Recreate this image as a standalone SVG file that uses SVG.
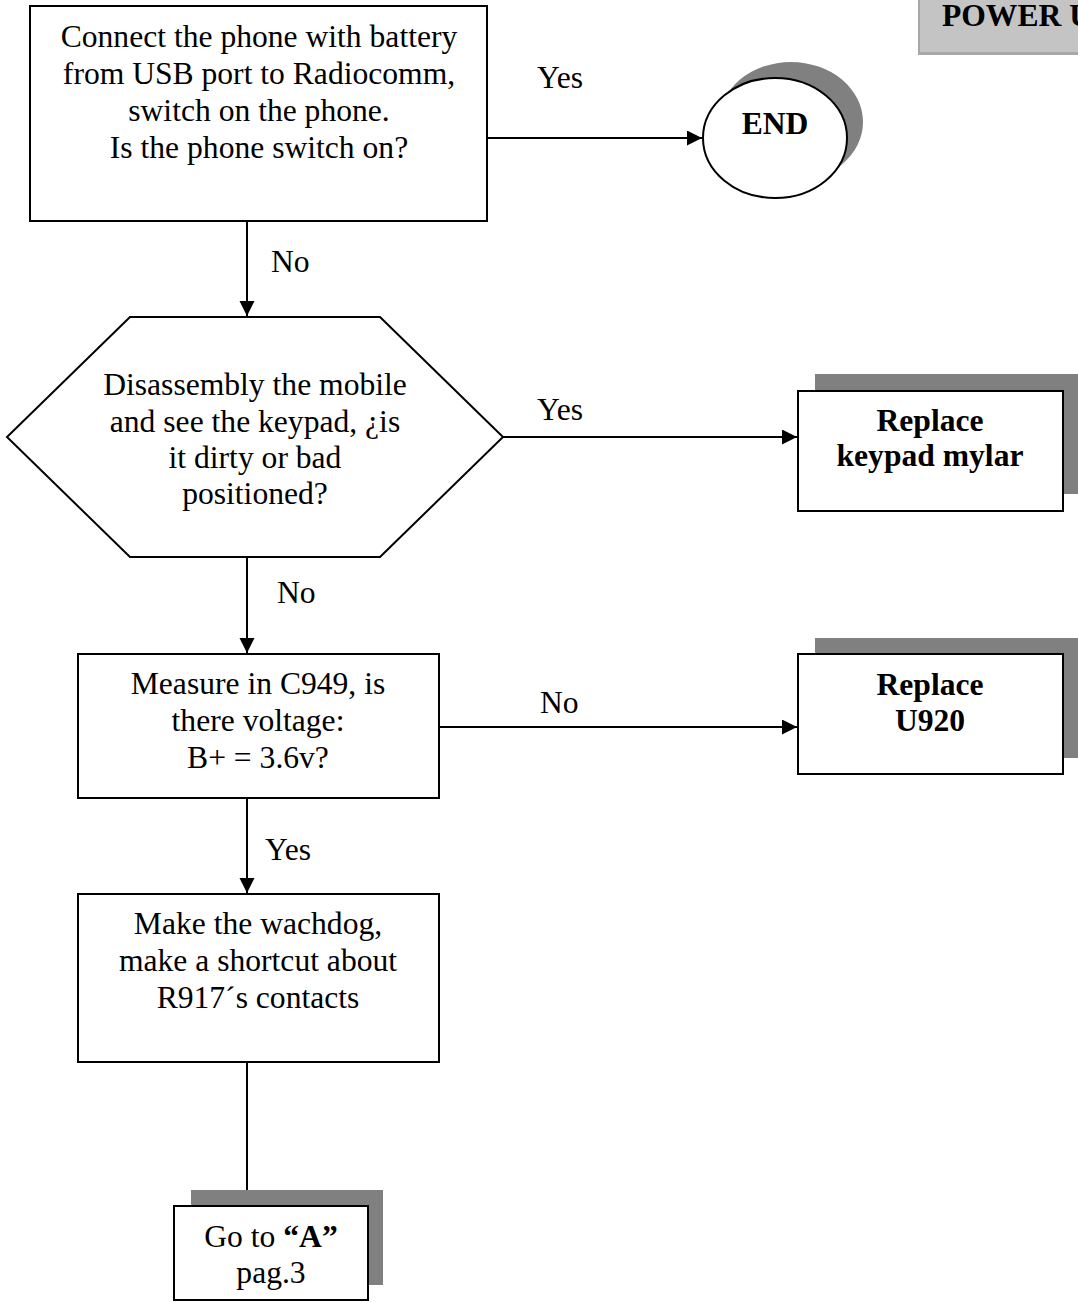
<svg xmlns="http://www.w3.org/2000/svg" width="1078" height="1302" viewBox="0 0 1078 1302">
<style>
text{font-family:"Liberation Serif","Times New Roman",serif;font-size:31.6px;fill:#000}
.c{text-anchor:middle}
.b{font-weight:bold}
.box{fill:#fff;stroke:#000;stroke-width:2}
.sh{fill:#808080}
.ln{fill:none;stroke:#000;stroke-width:2}
</style>
<defs>
<marker id="ah" markerWidth="16" markerHeight="16" refX="15" refY="7.5" orient="auto" markerUnits="userSpaceOnUse">
<path d="M0,0 L15,7.5 L0,15 Z" fill="#000"/>
</marker>
</defs>
<rect width="1078" height="1302" fill="#fff"/>

<g id="header">
<rect x="918" y="-2" width="162" height="57" fill="#a8a8a8"/>
<rect x="920" y="-2" width="160" height="54" fill="#c4c4c4"/>
<text x="942" y="26" class="b">POWER U</text>
</g>

<g id="connectors">
<path class="ln" d="M487,138 H702" marker-end="url(#ah)"/>
<path class="ln" d="M247,221 V316" marker-end="url(#ah)"/>
<path class="ln" d="M503,437 H797" marker-end="url(#ah)"/>
<path class="ln" d="M247,557 V653" marker-end="url(#ah)"/>
<path class="ln" d="M439,727 H797" marker-end="url(#ah)"/>
<path class="ln" d="M247,798 V893" marker-end="url(#ah)"/>
<path class="ln" d="M247,1062 V1205" marker-end="url(#ah)"/>
<text x="537" y="88">Yes</text>
<text x="271" y="272">No</text>
<text x="537" y="420">Yes</text>
<text x="277" y="603">No</text>
<text x="540" y="713">No</text>
<text x="265" y="860">Yes</text>
</g>

<g id="start">
<rect class="box" x="30" y="6" width="457" height="215"/>
<text class="c" x="259" y="47">Connect the phone with battery</text>
<text class="c" x="259" y="84">from USB port to Radiocomm,</text>
<text class="c" x="259" y="121">switch on the phone.</text>
<text class="c" x="259" y="158">Is the phone switch on?</text>
</g>

<g id="end">
<ellipse class="sh" cx="791" cy="122" rx="72" ry="60"/>
<ellipse class="box" cx="775" cy="138" rx="72" ry="60"/>
<text class="c b" x="775" y="134">END</text>
</g>

<g id="keypad-check">
<polygon class="box" points="130,317 380,317 503,437 380,557 130,557 7,437"/>
<text class="c" x="255" y="395">Disassembly the mobile</text>
<text class="c" x="255" y="432">and see the keypad, ¿is</text>
<text class="c" x="255" y="468">it dirty or bad</text>
<text class="c" x="255" y="504">positioned?</text>
</g>

<g id="replace-keypad">
<rect class="sh" x="815" y="374" width="265" height="120"/>
<rect class="box" x="798" y="391" width="265" height="120"/>
<text class="c b" x="930" y="431">Replace</text>
<text class="c b" x="930" y="466">keypad mylar</text>
</g>

<g id="measure">
<rect class="box" x="78" y="654" width="361" height="144"/>
<text class="c" x="258" y="694">Measure in C949, is</text>
<text class="c" x="258" y="731">there voltage:</text>
<text class="c" x="258" y="768">B+ = 3.6v?</text>
</g>

<g id="replace-u920">
<rect class="sh" x="815" y="638" width="265" height="120"/>
<rect class="box" x="798" y="654" width="265" height="120"/>
<text class="c b" x="930" y="695">Replace</text>
<text class="c b" x="930" y="731">U920</text>
</g>

<g id="watchdog">
<rect class="box" x="78" y="894" width="361" height="168"/>
<text class="c" x="258" y="934">Make the wachdog,</text>
<text class="c" x="258" y="971">make a shortcut about</text>
<text class="c" x="258" y="1008">R917´s contacts</text>
</g>

<g id="goto">
<rect class="sh" x="191" y="1190" width="192" height="95"/>
<rect class="box" x="174" y="1206" width="194" height="94"/>
<text class="c" x="271" y="1247">Go to <tspan class="b">“A”</tspan></text>
<text class="c" x="271" y="1283">pag.3</text>
</g>
</svg>
